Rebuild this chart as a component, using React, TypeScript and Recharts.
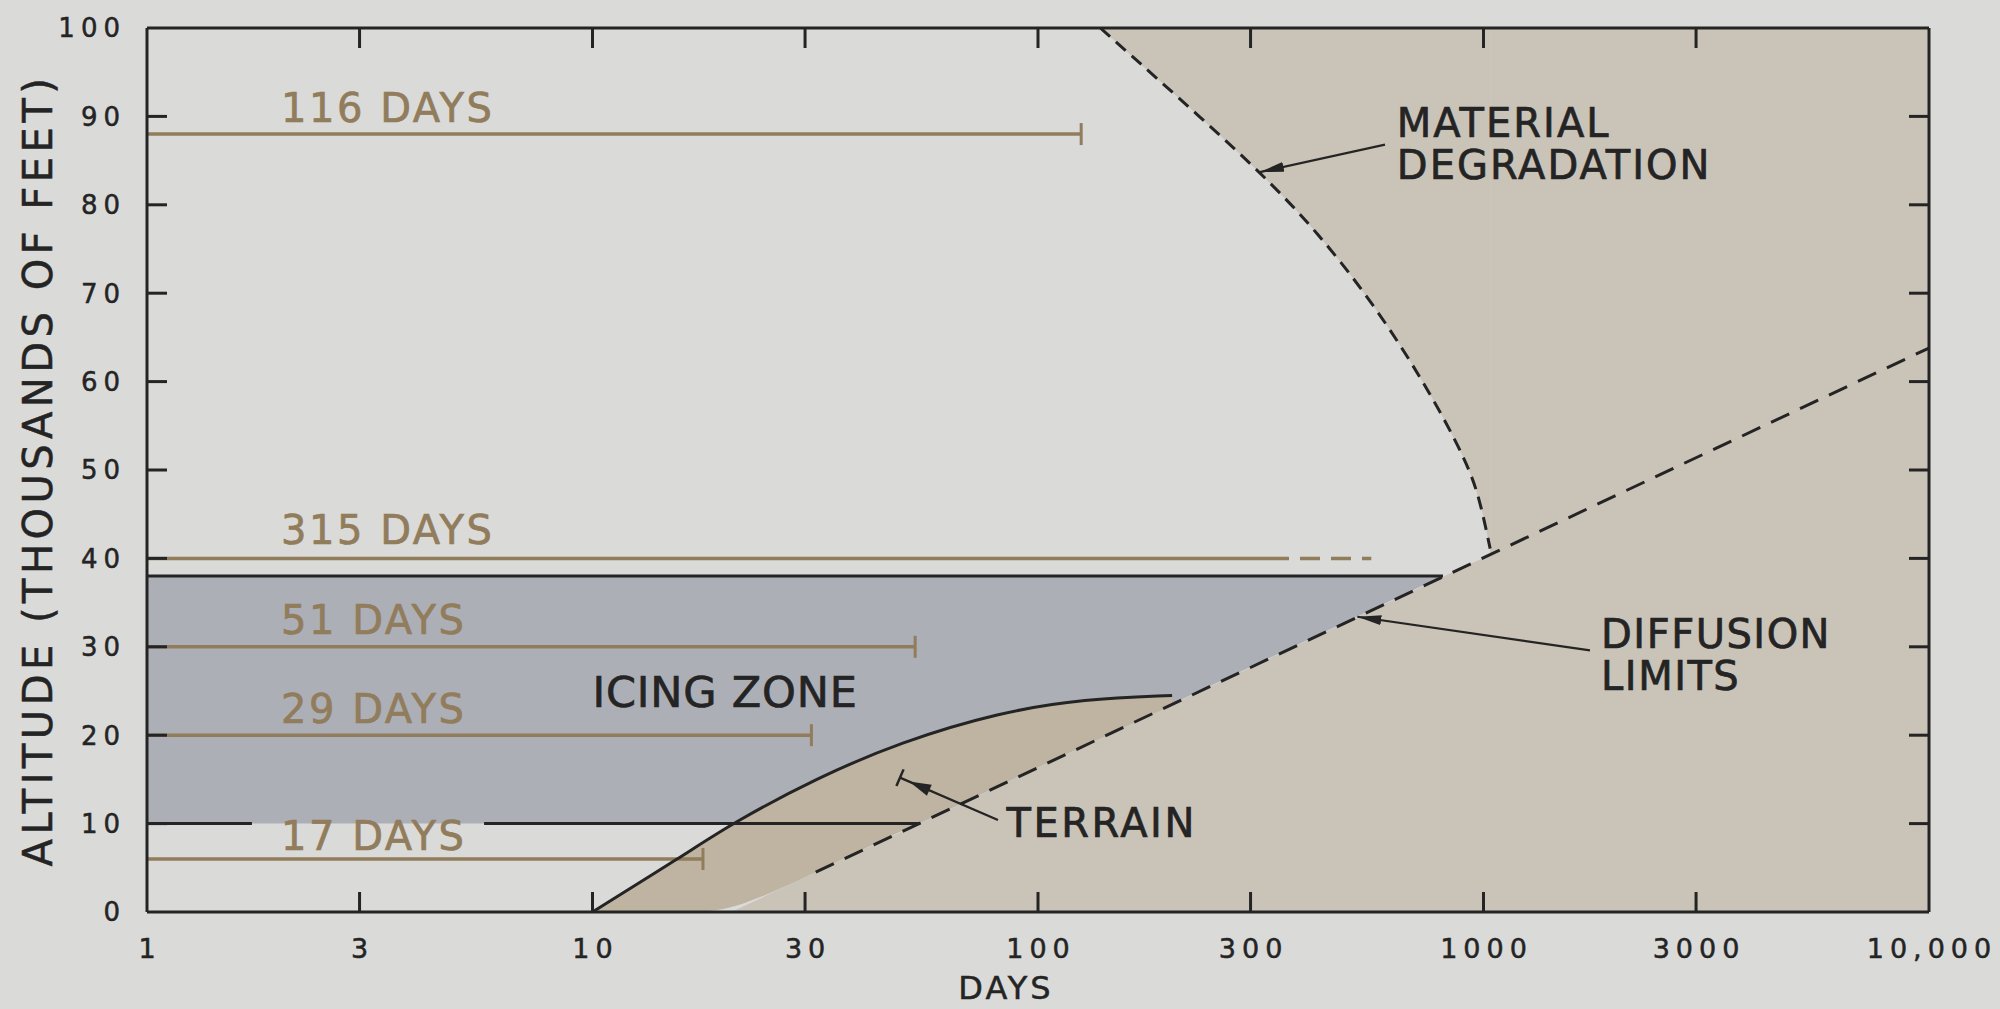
import React from 'react';
import { ComposedChart, XAxis, YAxis, Area, Line, Scatter } from 'recharts';

const W = 2000;
const H = 1009;
const BG = '#dadad8';
const INK = '#242424';
const TAN_INK = '#917c5c';
const ICING = '#adafb7';
const TAN = '#cac3b8';
const TERRAIN = '#bfb4a1';
const FONT = '"DejaVu Sans", Verdana, sans-serif';

// ---- axes ----
const xTicks = [1, 3, 10, 30, 100, 300, 1000, 3000, 10000];
const yTicks = [0, 10, 20, 30, 40, 50, 60, 70, 80, 90, 100];

// ---- diffusion limits (straight line on log-days) ----
const diffusionFillX = [20.5, 10000];
const diffusionFillTop = [0, 63.8];
const diffusionLineX = [31.7, 10000];
const diffusionLineY = [4.5, 63.8];

// ---- material degradation curve ----
const materialX = [138, 204, 310, 425, 572, 745, 919, 982, 1035];
const materialY = [100, 92.4, 84.1, 76.9, 68.5, 59.5, 50.9, 46.6, 41.1];
const farRightX = [1035, 10000];

// ---- icing zone ----
const icingX = [1, 54, 811];
const icingLow = [10, 10, 38];
const icingHigh = [38, 38, 38];
const icingTopX = [1, 811];
const icingTopY = [38, 38];
const icingBottomAX = [1, 1.72];
const icingBottomBX = [5.71, 54];
const icingBottomY = [10, 10];

// ---- terrain ----
const terrainX = [10, 16, 20.5, 32, 49, 82, 127, 200];
const terrainY = [0, 6.4, 10, 15.2, 19.2, 22.6, 24.1, 24.5];
const terrainBase = [0, 0, 0, 4.6, 9.1, 14.4, 18.8, 23.4];

// ---- endurance bars ----
const dayLabels = ['116 DAYS', '315 DAYS', '51 DAYS', '29 DAYS', '17 DAYS'];
const dayAltitude = [88, 40, 30, 20, 6];
const dayEnd = [125, 330, 53, 31, 17.7];
const dayDashedEnd = [560];
const dayLabelX = [2.0, 2.0, 2.0, 2.0, 2.0];
const dayLabelY = [89.4, 41.6, 31.4, 21.4, 7.0];

// ---- annotations ----
const noteText = [['ICING ZONE'], ['TERRAIN'], ['MATERIAL', 'DEGRADATION'], ['DIFFUSION', 'LIMITS']];
const noteX = [10, 85, 639, 1836];
const noteY = [23.2, 8.5, 87.7, 29.9];
const noteSize = [43, 40, 40, 40];
const noteSpacing = [0.8, 2.5, 2, 1.5];

const leaderMaterialX = [601, 315];
const leaderMaterialY = [86.8, 83.7];
const leaderDiffusionX = [1734, 521];
const leaderDiffusionY = [29.6, 33.4];
const leaderTerrainX = [81.3, 49];
const leaderTerrainY = [10.4, 15.2];

const pts = (xs: number[], ys: number[]) => xs.map((x, i) => ({ x, y: ys[i] }));
const rng = (xs: number[], lo: number[], hi: number[]) => xs.map((x, i) => ({ x, r: [lo[i], hi[i]] }));

const diffusionFill = rng(diffusionFillX, diffusionFillX.map(() => 0), diffusionFillTop);
const materialFill = rng(materialX, materialY, materialX.map(() => 100));
const farRightFill = rng(farRightX, [0, 0], [100, 100]);
const icingFill = rng(icingX, icingLow, icingHigh);
const terrainFill = rng(terrainX, terrainBase, terrainY);

const dayLines = dayAltitude.map((y, i) => pts([1, dayEnd[i]], [y, y]));
const dayDashed = pts([dayEnd[1], dayDashedEnd[0]], [dayAltitude[1], dayAltitude[1]]);
const dayLabelData = dayLabels.map((t, i) => ({ x: dayLabelX[i], y: dayLabelY[i], lines: [t], size: 40, sp: 2.5 }));
const noteData = noteText.map((t, i) => ({ x: noteX[i], y: noteY[i], lines: t, size: noteSize[i], sp: noteSpacing[i] }));

const fmt = (v: number) => (v >= 10000 ? v.toLocaleString('en-US') : String(v));

function LeftTick(props: any) {
  const { x, y, payload } = props;
  const v = payload.value;
  return (
    <g>
      {v > 0 && v < 100 && <line x1={x} y1={y} x2={x + 20} y2={y} stroke={INK} strokeWidth={3} />}
      <text x={x - 21} y={y} dy="0.36em" textAnchor="end" fontSize={26} letterSpacing={6} fill={INK}
        stroke={INK} strokeWidth={0.5} fontFamily={FONT}>
        {v}
      </text>
    </g>
  );
}

function RightTick(props: any) {
  const { x, y, payload } = props;
  const v = payload.value;
  if (v <= 0 || v >= 100) return <g />;
  return <line x1={x} y1={y} x2={x - 20} y2={y} stroke={INK} strokeWidth={3} />;
}

function BottomTick(props: any) {
  const { x, y, payload } = props;
  const v = payload.value;
  return (
    <g>
      {v > 1 && v < 10000 && <line x1={x} y1={y} x2={x} y2={y - 20} stroke={INK} strokeWidth={3} />}
      <text x={x + 3} y={y + 46} textAnchor="middle" fontSize={27} letterSpacing={6} fill={INK}
        stroke={INK} strokeWidth={0.5} fontFamily={FONT}>
        {fmt(v)}
      </text>
    </g>
  );
}

function TopTick(props: any) {
  const { x, y, payload } = props;
  const v = payload.value;
  if (v <= 1 || v >= 10000) return <g />;
  return <line x1={x} y1={y} x2={x} y2={y + 20} stroke={INK} strokeWidth={3} />;
}

const capDot = (last: number) => (p: any) => {
  if (p.index !== last) return <g key={`d${p.index}`} />;
  return <line key={`d${p.index}`} x1={p.cx} y1={p.cy - 11} x2={p.cx} y2={p.cy + 11} stroke={TAN_INK} strokeWidth={3} />;
};

const textShape = (color: string) => (p: any) => {
  const d = p.payload;
  const size = d.size || 40;
  return (
    <text x={p.cx} y={p.cy} fontSize={size} letterSpacing={d.sp ?? 2.5} fill={color} stroke={color}
      strokeWidth={0.7} fontFamily={FONT}>
      {d.lines.map((l: string, i: number) => (
        <tspan key={i} x={p.cx} dy={i === 0 ? 0 : size * 1.06}>{l}</tspan>
      ))}
    </text>
  );
};

export default function App() {
  return (
    <div style={{ position: 'fixed', left: 0, top: 0, width: W, height: H, background: BG }}>
      <ComposedChart width={W} height={H} margin={{ top: 18, right: 61, bottom: 37, left: 87 }}>
        <defs>
          <marker id="arrowHead" viewBox="0 0 24 10" refX="24" refY="5" markerWidth="24" markerHeight="10" markerUnits="userSpaceOnUse" orient="auto">
            <path d="M0,0 L24,5 L0,10 z" fill={INK} />
          </marker>
          <marker id="terrainHead" viewBox="0 0 36 24" refX="34" refY="12" markerWidth="36" markerHeight="24" markerUnits="userSpaceOnUse" orient="auto">
            <path d="M2,6 L24,12 L2,18 z" fill={INK} />
            <line x1="34" y1="3" x2="34" y2="21" stroke={INK} strokeWidth="2.5" />
          </marker>
        </defs>

        <Area data={diffusionFill} dataKey="r" type="linear" fill={TAN} fillOpacity={1} stroke="none" isAnimationActive={false} activeDot={false} />
        <Area data={materialFill} dataKey="r" type="basis" fill={TAN} fillOpacity={1} stroke="none" isAnimationActive={false} activeDot={false} />
        <Area data={farRightFill} dataKey="r" type="linear" fill={TAN} fillOpacity={1} stroke="none" isAnimationActive={false} activeDot={false} />
        <Area data={icingFill} dataKey="r" type="linear" fill={ICING} fillOpacity={1} stroke="none" isAnimationActive={false} activeDot={false} />
        <Area data={terrainFill} dataKey="r" type="basis" fill={TERRAIN} fillOpacity={1} stroke="none" isAnimationActive={false} activeDot={false} />

        {dayLines.map((d, i) => (
          <Line key={`day${i}`} data={d} dataKey="y" type="linear" stroke={TAN_INK} strokeWidth={3.5}
            dot={i === 1 ? false : capDot(1)} activeDot={false} isAnimationActive={false} />
        ))}
        <Line data={dayDashed} dataKey="y" type="linear" stroke={TAN_INK} strokeWidth={3.5} strokeDasharray="20 11" dot={false} activeDot={false} isAnimationActive={false} />

        <Line data={pts(icingTopX, icingTopY)} dataKey="y" type="linear" stroke={INK} strokeWidth={3} dot={false} activeDot={false} isAnimationActive={false} />
        <Line data={pts(icingBottomAX, icingBottomY)} dataKey="y" type="linear" stroke={INK} strokeWidth={3} dot={false} activeDot={false} isAnimationActive={false} />
        <Line data={pts(icingBottomBX, icingBottomY)} dataKey="y" type="linear" stroke={INK} strokeWidth={3} dot={false} activeDot={false} isAnimationActive={false} />
        <Line data={pts(terrainX, terrainY)} dataKey="y" type="basis" stroke={INK} strokeWidth={3} dot={false} activeDot={false} isAnimationActive={false} />
        <Line data={pts(diffusionLineX, diffusionLineY)} dataKey="y" type="linear" stroke={INK} strokeWidth={3} strokeDasharray="20 12" dot={false} activeDot={false} isAnimationActive={false} />
        <Line data={pts(materialX, materialY)} dataKey="y" type="basis" stroke={INK} strokeWidth={3} strokeDasharray="13 8" dot={false} activeDot={false} isAnimationActive={false} />

        <Line data={pts(leaderMaterialX, leaderMaterialY)} dataKey="y" type="linear" stroke={INK} strokeWidth={2.2} markerEnd="url(#arrowHead)" dot={false} activeDot={false} isAnimationActive={false} />
        <Line data={pts(leaderDiffusionX, leaderDiffusionY)} dataKey="y" type="linear" stroke={INK} strokeWidth={2.2} markerEnd="url(#arrowHead)" dot={false} activeDot={false} isAnimationActive={false} />
        <Line data={pts(leaderTerrainX, leaderTerrainY)} dataKey="y" type="linear" stroke={INK} strokeWidth={2.2} markerEnd="url(#terrainHead)" dot={false} activeDot={false} isAnimationActive={false} />

        <Scatter data={dayLabelData} dataKey="y" shape={textShape(TAN_INK)} isAnimationActive={false} />
        <Scatter data={noteData} dataKey="y" shape={textShape(INK)} isAnimationActive={false} />

        <XAxis xAxisId={0} dataKey="x" type="number" scale="log" domain={[1, 10000]} allowDataOverflow ticks={xTicks}
          height={60} axisLine={{ stroke: INK, strokeWidth: 3 }} tickLine={false} tickSize={0} tickMargin={0}
          tick={<BottomTick />} interval={0}
          label={(p: any) => {
            const vb = p.viewBox;
            return (
              <text x={vb.x + vb.width / 2 - 32} y={vb.y + 87} textAnchor="middle" fontSize={32} letterSpacing={3} fill={INK}
                stroke={INK} strokeWidth={0.5} fontFamily={FONT}>
                DAYS
              </text>
            );
          }} />
        <XAxis xAxisId="top" orientation="top" dataKey="x" type="number" scale="log" domain={[1, 10000]} allowDataOverflow ticks={xTicks}
          height={10} axisLine={{ stroke: INK, strokeWidth: 3 }} tickLine={false} tickSize={0} tickMargin={0}
          tick={<TopTick />} interval={0} />
        <YAxis yAxisId={0} type="number" domain={[0, 100]} ticks={yTicks} allowDataOverflow
          width={60} axisLine={{ stroke: INK, strokeWidth: 3 }} tickLine={false} tickSize={0} tickMargin={0}
          tick={<LeftTick />} interval={0}
          label={(p: any) => {
            const vb = p.viewBox;
            const cx = vb.x - 35;
            const cy = vb.y + vb.height / 2;
            return (
              <text x={cx} y={cy} transform={`rotate(-90, ${cx}, ${cy})`} textAnchor="middle" fontSize={40} letterSpacing={4.5} fill={INK}
                stroke={INK} strokeWidth={0.5} fontFamily={FONT}>
                ALTITUDE (THOUSANDS OF FEET)
              </text>
            );
          }} />
        <YAxis yAxisId="right" orientation="right" type="number" domain={[0, 100]} ticks={yTicks} allowDataOverflow
          width={10} axisLine={{ stroke: INK, strokeWidth: 3 }} tickLine={false} tickSize={0} tickMargin={0}
          tick={<RightTick />} interval={0} />
      </ComposedChart>
    </div>
  );
}
